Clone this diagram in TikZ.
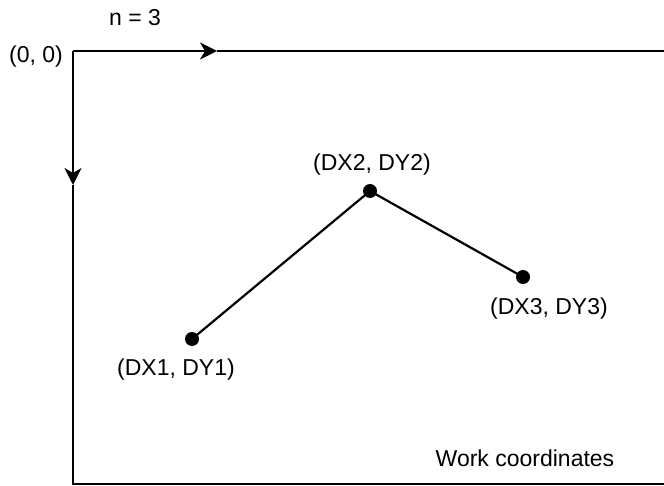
\documentclass[tikz,border=0pt]{standalone}
\usepackage{fontspec}
\setmainfont{Liberation Sans}
\usetikzlibrary{arrows.meta}
\tikzset{
  frame/.style={line width=2pt, draw=black},
  seg/.style={line width=2.2pt, draw=black},
  dotnode/.style={circle, fill=black, inner sep=0pt, minimum size=14pt},
  lbl/.style={anchor=base, inner sep=0pt, font=\fontsize{23}{27}\selectfont},
  tip/.style={-{Stealth[length=17pt, width=17pt, inset=5pt]}}
}
\begin{document}
\begin{tikzpicture}[x=1pt, y=-1pt]
\useasboundingbox (0,0) rectangle (664,486);
% frame corners
\coordinate (o) at (73,51);
\coordinate (tarrow) at (217,51);
\coordinate (tr) at (665,51);
\coordinate (larrow) at (73,185);
\coordinate (bl) at (73,484);
\coordinate (br) at (665,484);
\draw[frame, tip] (o) -- (tarrow);
\draw[frame] (tarrow) -- (tr);
\draw[frame, tip] (o) -- (larrow);
\draw[frame] (larrow) -- (bl) -- (br);
% points
\node[dotnode] (p1) at (192,339) {};
\node[dotnode] (p2) at (370,191) {};
\node[dotnode] (p3) at (523,277) {};
\draw[seg] (p1.center) -- (p2.center) -- (p3.center);
% labels
\node[lbl] (n) at (135,26) {n = 3};
\node[lbl] (org) at (36,63) {(0, 0)};
\node[lbl] (l1) at (176,375) {(DX1, DY1)};
\node[lbl] (l2) at (372,171) {(DX2, DY2)};
\node[lbl] (l3) at (549,315) {(DX3, DY3)};
\node[lbl] (wc) at (525,466) {Work coordinates};
\end{tikzpicture}
\end{document}
